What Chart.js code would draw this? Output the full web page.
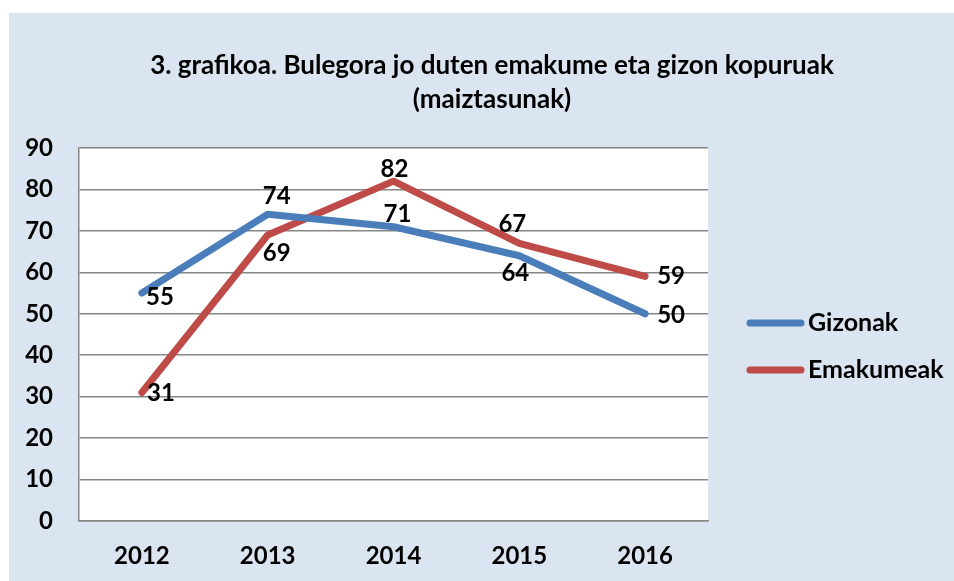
<!DOCTYPE html>
<html>
<head>
<meta charset="utf-8">
<script src="https://cdn.jsdelivr.net/npm/chart.js@4"></script>
<style>
  html, body { margin: 0; padding: 0; background: #fff; }
  #wrap { width: 954px; height: 581px; }
</style>
</head>
<body>
<div id="wrap"><canvas id="lineChart" width="954" height="581"></canvas></div>
<script>
// data
var years = ['2012', '2013', '2014', '2015', '2016'];
var gizonak = [55, 74, 71, 64, 50];
var emakumeak = [31, 69, 82, 67, 59];
var titleLines = ['3. grafikoa. Bulegora jo duten emakume eta gizon kopuruak', '(maiztasunak)'];

// where each value label sits relative to its point [dx, dy]
var gizonakLabelOffsets = [[18, 4], [9, -18], [4, -12], [-4, 18], [26, 1]];
var emakumeakLabelOffsets = [[19, 1], [9, 18], [1, -12], [-7, -19], [26, 0]];

var FONT = 'Lato, "Liberation Sans", sans-serif';

// background panel, title, value labels, legend
var decor = {
    id: 'decor',
    beforeDraw: function (chart) {
        var c = chart.ctx;
        c.save();
        c.fillStyle = '#dbe5f1';
        c.fillRect(9, 13, 945, 568);
        c.fillStyle = '#ffffff';
        var a = chart.chartArea;
        c.fillRect(a.left, a.top, a.right - a.left, a.bottom - a.top);
        c.restore();
    },
    afterDatasetsDraw: function (chart) {
        var c = chart.ctx;
        c.save();
        c.fillStyle = '#000';
        c.textAlign = 'center';
        c.textBaseline = 'middle';
        c.font = 'bold 26px ' + FONT;
        c.fillText(titleLines[0], 492, 66);
        c.fillText(titleLines[1], 492, 100);

        c.font = 'bold 24px ' + FONT;
        chart.data.datasets.forEach(function (ds, i) {
            var meta = chart.getDatasetMeta(i);
            meta.data.forEach(function (pt, j) {
                var off = ds.labelOffsets[j];
                c.fillText(String(ds.data[j]), pt.x + off[0], pt.y + off[1]);
            });
        });

        // legend
        c.font = 'bold 25px ' + FONT;
        c.textAlign = 'left';
        c.lineCap = 'round';
        c.lineWidth = 7;
        chart.data.datasets.forEach(function (ds, i) {
            var y = 323 + i * 47;
            c.strokeStyle = ds.borderColor;
            c.beginPath();
            c.moveTo(750, y);
            c.lineTo(801, y);
            c.stroke();
            c.fillText(ds.label, 808, y);
        });
        c.restore();
    }
};

var ctx = document.getElementById('lineChart').getContext('2d');
var lineChart = new Chart(ctx, {
    type: 'line',
    data: {
        labels: years,
        datasets: [{
            label: 'Gizonak',
            data: gizonak,
            labelOffsets: gizonakLabelOffsets,
            borderColor: '#4a7ebb',
            backgroundColor: '#4a7ebb',
            borderWidth: 7,
            borderCapStyle: 'round',
            borderJoinStyle: 'round',
            pointRadius: 0,
            tension: 0
        }, {
            label: 'Emakumeak',
            data: emakumeak,
            labelOffsets: emakumeakLabelOffsets,
            borderColor: '#be4b48',
            backgroundColor: '#be4b48',
            borderWidth: 7,
            borderCapStyle: 'round',
            borderJoinStyle: 'round',
            pointRadius: 0,
            tension: 0
        }]
    },
    options: {
        responsive: false,
        animation: false,
        layout: {
            padding: { left: 0, top: 148, right: 246, bottom: 0 }
        },
        plugins: {
            legend: { display: false },
            title: { display: false },
            tooltip: { enabled: false }
        },
        scales: {
            x: {
                offset: true,
                afterFit: function (s) { s.height = 60; },
                grid: { display: false, drawTicks: false },
                border: { color: '#868686', width: 1.5 },
                ticks: {
                    color: '#000',
                    padding: 21,
                    font: { family: FONT, size: 24, weight: 'bold' }
                }
            },
            y: {
                min: 0,
                max: 90,
                afterFit: function (s) { s.width = 79; },
                grid: { color: '#868686', lineWidth: 1.5, drawTicks: false },
                border: { color: '#868686', width: 1.5 },
                ticks: {
                    stepSize: 10,
                    color: '#000',
                    padding: 26,
                    font: { family: FONT, size: 24, weight: 'bold' }
                }
            }
        }
    },
    plugins: [decor]
});
</script>
</body>
</html>
